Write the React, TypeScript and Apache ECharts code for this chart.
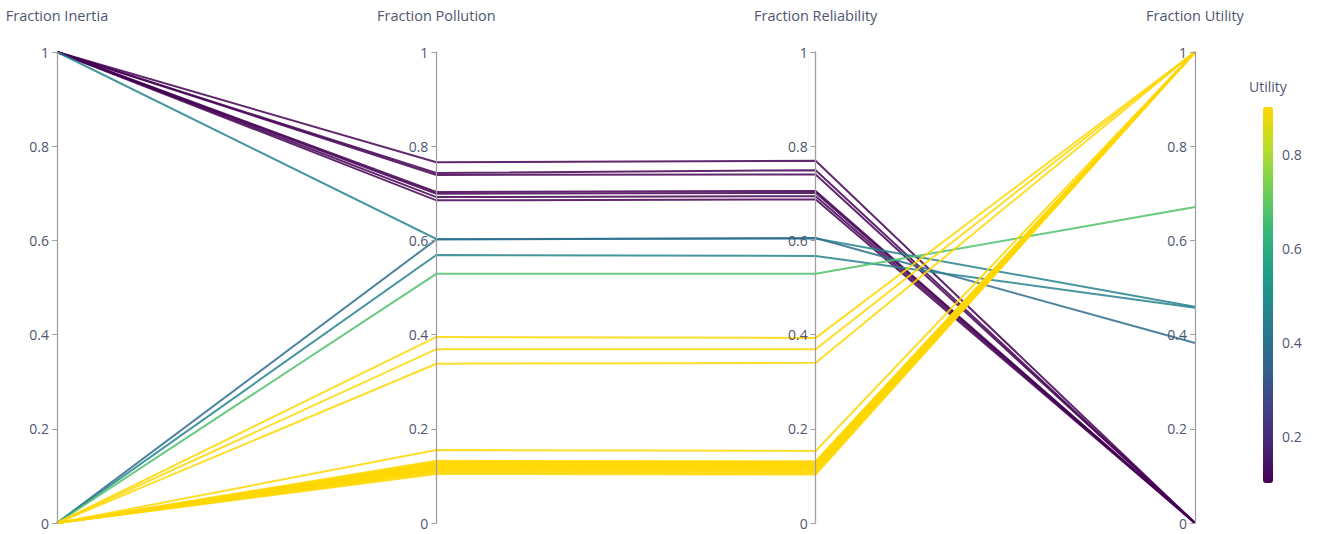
import React, { useEffect, useRef } from "react";
import * as echarts from "echarts";

const axisNames = ["Fraction Inertia", "Fraction Pollution", "Fraction Reliability", "Fraction Utility"];
const axisMin = 0;
const axisMax = 1;
const axisStep = 0.2;

// one entry per line
const inertia = [
  1, 1, 1, 1, 1, 1, 1,
  1, 0, 0,
  0,
  0, 0, 0, 0,
  0, 0, 0, 0, 0, 0, 0, 0, 0, 0, 0, 0, 0, 0,
];
const pollution = [
  0.766, 0.743, 0.739, 0.703, 0.699, 0.692, 0.685,
  0.603, 0.602, 0.569,
  0.529,
  0.395, 0.369, 0.338, 0.155,
  0.132, 0.129, 0.128, 0.125, 0.124, 0.121, 0.12, 0.118, 0.116, 0.114, 0.112, 0.11, 0.107, 0.104,
];
const reliability = [
  0.769, 0.749, 0.74, 0.705, 0.701, 0.694, 0.687,
  0.604, 0.605, 0.567,
  0.529,
  0.393, 0.369, 0.34, 0.153,
  0.131, 0.129, 0.127, 0.125, 0.123, 0.121, 0.12, 0.117, 0.116, 0.113, 0.111, 0.109, 0.106, 0.103,
];
const utility = [
  0, 0, 0, 0, 0, 0, 0,
  0.459, 0.382, 0.457,
  0.671,
  1, 1, 1, 1,
  1, 1, 1, 1, 1, 1, 1, 1, 1, 1, 1, 1, 1, 1,
];

const colorbarMin = 0.1;
const colorbarMax = 0.9;
const colorbarTicks = [0.2, 0.4, 0.6, 0.8];
const colorbarTitle = "Utility";
const colorscale = [
  "#440154", "#482878", "#3e4989", "#31688e", "#26828e",
  "#1f9e89", "#35b779", "#6ece58", "#b5de2b", "#ffd700",
];

const FONT = "'Open Sans', 'Noto Sans', sans-serif";
const TEXT = "#4f5670";
const AXIS = "#a0a0a0";

export default function App() {
  const ref = useRef<HTMLDivElement>(null);
  useEffect(() => {
    document.body.style.margin = "0";
    document.body.style.overflow = "hidden";
    const chart = echarts.init(ref.current!, undefined, { renderer: "svg" });

    const data = inertia.map((v, i) => [v, pollution[i], reliability[i], utility[i]]);

    const cbLeft = 1263;
    const cbTop = 107;
    const cbH = 376;
    const cbW = 10;
    const cbY = (v: number) => cbTop + ((colorbarMax - v) / (colorbarMax - colorbarMin)) * cbH;

    chart.setOption({
      animation: false,
      textStyle: { fontFamily: FONT },
      parallel: {
        left: 57,
        right: 125,
        top: 52,
        bottom: 11,
        layout: "horizontal",
        parallelAxisDefault: {
          type: "value",
          min: axisMin,
          max: axisMax,
          interval: axisStep,
          nameLocation: "end",
          nameGap: 29,
          nameTextStyle: { color: TEXT, fontSize: 14.5, fontFamily: FONT },
          axisLine: { lineStyle: { color: AXIS, width: 1.3 } },
          axisTick: { show: true, length: -5, inside: false, lineStyle: { color: AXIS } },
          axisLabel: {
            color: TEXT,
            fontSize: 14,
            fontFamily: FONT,
            inside: false,
            margin: -8,
            align: "right",
            formatter: (v: number) => String(Math.round(v * 10) / 10),
          },
          splitLine: { show: false },
        },
      },
      parallelAxis: axisNames.map((name, i) => ({ dim: i, name })),
      visualMap: {
        type: "continuous",
        dimension: 3,
        min: colorbarMin,
        max: colorbarMax,
        calculable: false,
        show: true,
        left: cbLeft,
        top: cbTop,
        itemWidth: cbW,
        itemHeight: cbH,
        padding: 0,
        text: ["", ""],
        inRange: { color: colorscale },
        hoverLink: false,
      },
      graphic: [
        {
          type: "text",
          left: cbLeft - 14,
          top: 79,
          style: { text: colorbarTitle, fill: TEXT, font: `14px ${FONT}` },
        },
        ...colorbarTicks.map((t) => ({
          type: "text",
          x: cbLeft + cbW + 9,
          y: cbY(t),
          style: {
            text: String(t),
            fill: TEXT,
            font: `14px ${FONT}`,
            verticalAlign: "middle",
            align: "left",
          },
        })),
      ],
      series: [
        {
          type: "parallel",
          lineStyle: { width: 2, opacity: 0.85 },
          emphasis: { disabled: true },
          data,
        },
      ],
    });
    return () => chart.dispose();
  }, []);
  return <div ref={ref} style={{ width: 1320, height: 534 }} />;
}
